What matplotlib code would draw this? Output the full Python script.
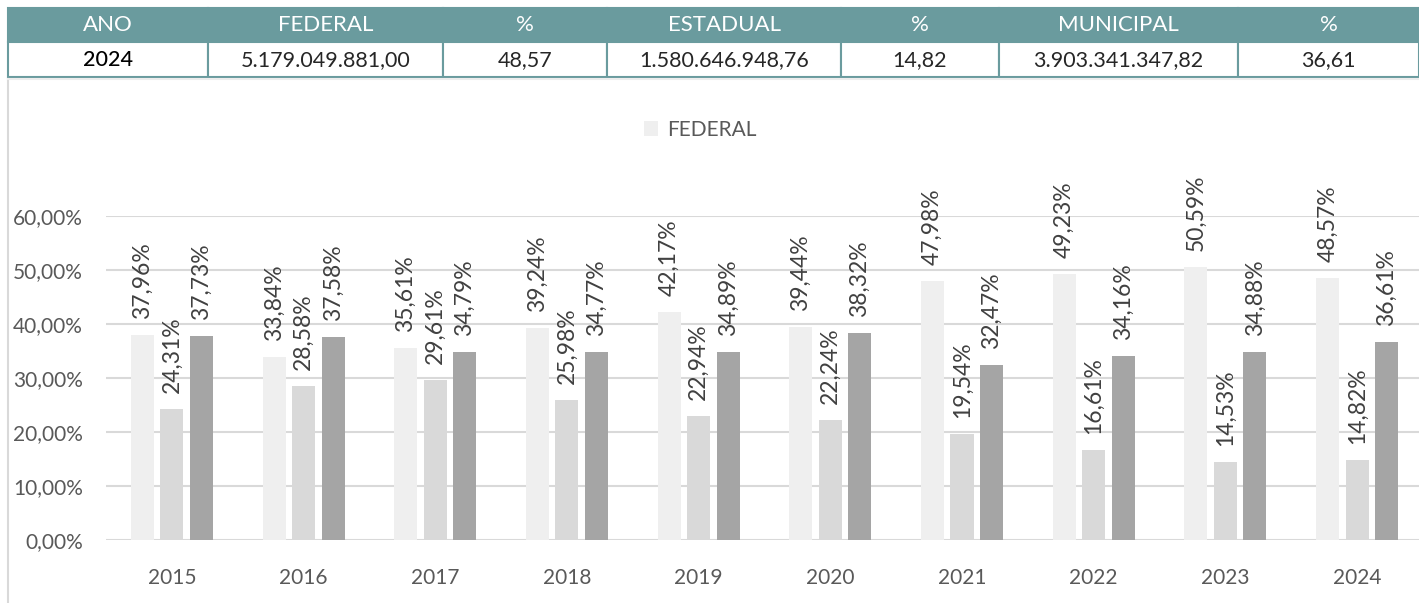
import matplotlib
matplotlib.use("Agg")
import numpy as np
from matplotlib import pyplot as plt
from matplotlib.lines import Line2D

plt.rcParams['font.family'] = ['Lato', 'DejaVu Sans']

anos = ['2015', '2016', '2017', '2018', '2019', '2020', '2021', '2022', '2023', '2024']
federal = [37.96, 33.84, 35.61, 39.24, 42.17, 39.44, 47.98, 49.23, 50.59, 48.57]
estadual = [24.31, 28.58, 29.61, 25.98, 22.94, 22.24, 19.54, 16.61, 14.53, 14.82]
municipal = [37.73, 37.58, 34.79, 34.77, 34.89, 38.32, 32.47, 34.16, 34.88, 36.61]

cabecalho = ['ANO', 'FEDERAL', '%', 'ESTADUAL', '%', 'MUNICIPAL', '%']
linha_2024 = ['2024', '5.179.049.881,00', '48,57', '1.580.646.948,76', '14,82',
              '3.903.341.347,82', '36,61']

W, H = 1419, 603
fig = plt.figure(figsize=(W / 100, H / 100), dpi=100)

teal = '#6A9B9E'
cinza_txt = '#595959'
grade = '#D9D9D9'

# tabela no topo
axt = fig.add_axes([8 / W, 1 - 77 / H, 1411 / W, 69 / H])
axt.axis('off')
larg = np.array([200, 235, 164, 234, 158, 239, 181], dtype=float)
tab = axt.table(cellText=[linha_2024], colLabels=cabecalho, colWidths=list(larg / larg.sum()),
                bbox=[0, 0, 1, 1], cellLoc='center')
tab.auto_set_font_size(False)
for (r, c), cel in tab.get_celld().items():
    cel.set_edgecolor(teal)
    cel.set_linewidth(1.5)
    if r == 0:
        cel.set_facecolor(teal)
        cel.get_text().set_color('white')
        cel.get_text().set_fontsize(16)
    else:
        cel.set_facecolor('white')
        cel.get_text().set_fontsize(15.5)
        cel.get_text().set_color('black' if c == 0 else '#262626')
        if c == 0:
            cel.get_text().set_fontweight('medium')

# borda da area do grafico
fig.add_artist(Line2D([8 / W, 8 / W], [0, 1 - 79 / H], color=grade, lw=1.5))
fig.add_artist(Line2D([8 / W, 1], [1 - 79 / H, 1 - 79 / H], color='#EDEDED', lw=1.5))

# grafico de barras
ax = fig.add_axes([106 / W, 63 / H, (W - 106) / W, 324 / H])
x = np.arange(len(anos))
w = 0.175
off = 0.224
series = [(federal, '#EFEFEF', 'FEDERAL'), (estadual, '#D9D9D9', 'ESTADUAL'),
          (municipal, '#A5A5A5', 'MUNICIPAL')]
conts = []
for k, (vals, cor, nome) in enumerate(series):
    bc = ax.bar(x + (k - 1) * off, vals, w, color=cor, label=nome, zorder=3)
    conts.append(bc)
    for xi, v in zip(x + (k - 1) * off, vals):
        ax.annotate(f'{v:.2f}'.replace('.', ',') + '%', (xi, v), xytext=(0, 16),
                    textcoords='offset pixels', rotation=90, ha='center', va='bottom',
                    fontsize=16.5, color='#404040', annotation_clip=False)

ax.set_xlim(-0.5, 9.47)
ax.set_ylim(0, 60)
ax.set_yticks(np.arange(0, 61, 10))
ax.set_yticklabels([f'{v:.2f}'.replace('.', ',') + '%' for v in np.arange(0, 61, 10)])
ax.set_xticks(x)
ax.set_xticklabels(anos)
ax.tick_params(axis='both', length=0, labelsize=15, colors=cinza_txt)
ax.tick_params(axis='x', pad=20)
ax.tick_params(axis='y', pad=16.5)
for s in ax.spines.values():
    s.set_visible(False)
ax.grid(axis='y', color=grade, lw=1.5, zorder=0)
ax.set_axisbelow(True)

fig.legend(handles=[conts[0]], loc='center', bbox_to_anchor=(700 / W, 1 - 130 / H),
           frameon=False, fontsize=15, labelcolor=cinza_txt, handlelength=0.7,
           handleheight=0.7, handletextpad=0.4)

fig.savefig('out.png', dpi=100)
